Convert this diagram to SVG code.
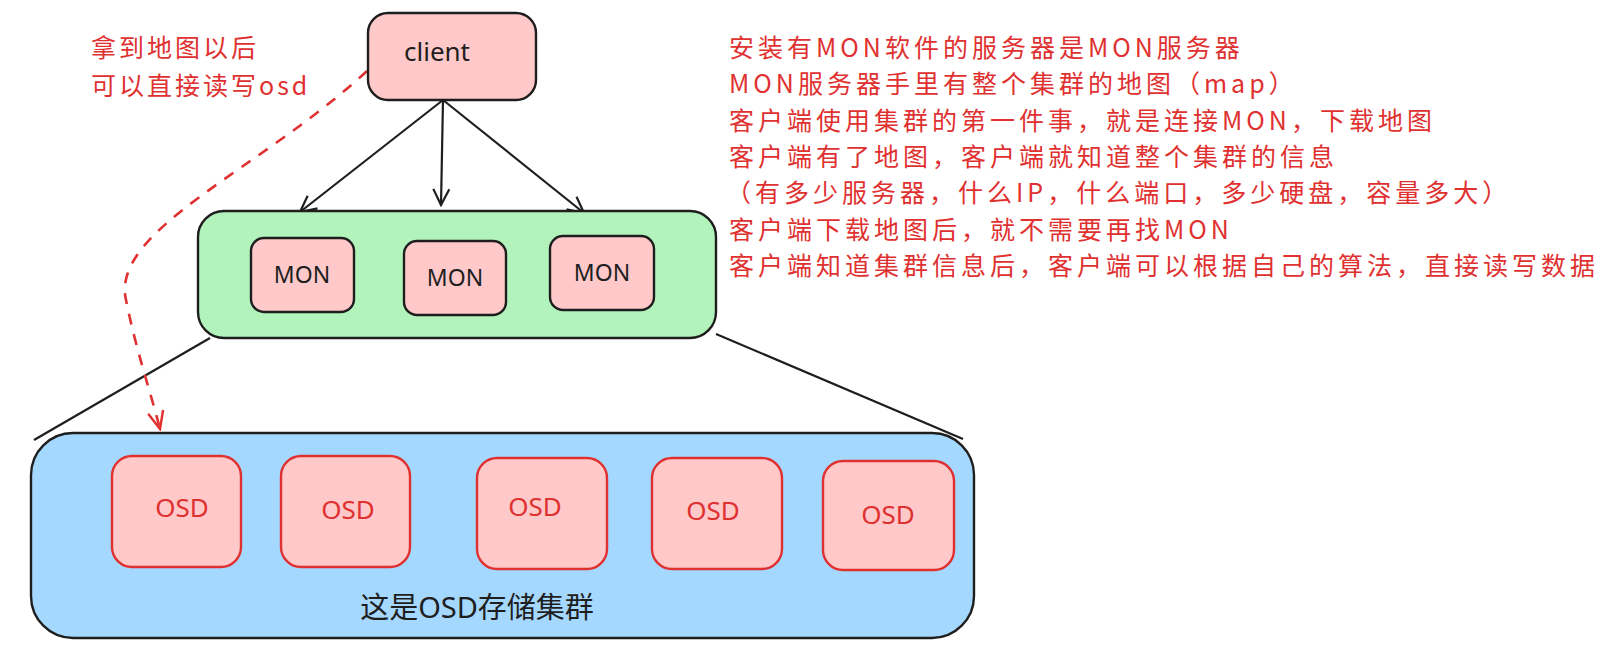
<svg xmlns="http://www.w3.org/2000/svg" width="1620" height="668" viewBox="0 0 1620 668">
<defs>
<style>
.box{stroke:#1e1e1e;stroke-width:2.4;}
.pink{fill:#ffc9c9;}
.osd{fill:#ffc9c9;stroke:#e03131;stroke-width:2.4;}
.lbl{font-family:"Noto Sans","Noto Sans CJK SC",sans-serif;fill:#1e1e1e;}
.red{font-family:"Noto Sans CJK SC","Noto Sans",sans-serif;fill:#e03131;font-size:25px;letter-spacing:4px;}
.osdt{font-family:"Noto Sans",sans-serif;fill:#e03131;font-size:26px;text-anchor:middle;}
.mon{font-family:"Noto Sans",sans-serif;fill:#1e1e1e;font-size:23px;text-anchor:middle;}
.conn{fill:none;stroke:#1e1e1e;stroke-width:2.2;}
</style>
<marker id="ah" viewBox="0 0 20 20" refX="18" refY="10" markerWidth="20" markerHeight="20" markerUnits="userSpaceOnUse" orient="auto">
<path d="M2,2 L18,10 L2,18" fill="none" stroke="#1e1e1e" stroke-width="2.2"/>
</marker>
<marker id="ahr" viewBox="0 0 20 20" refX="18" refY="10" markerWidth="22" markerHeight="22" markerUnits="userSpaceOnUse" orient="auto">
<path d="M2,3 L18,10 L2,17" fill="none" stroke="#e03131" stroke-width="2.2"/>
</marker>
</defs>
<rect width="1620" height="668" fill="#ffffff"/>

<g id="connectors">
<line class="conn" x1="443" y1="100" x2="300" y2="212" marker-end="url(#ah)"/>
<line class="conn" x1="443" y1="100" x2="441" y2="205" marker-end="url(#ah)"/>
<line class="conn" x1="443" y1="100" x2="584" y2="213" marker-end="url(#ah)"/>
<line class="conn" x1="210" y1="338" x2="34" y2="440"/>
<line class="conn" x1="716" y1="334" x2="963" y2="439"/>
<path d="M367,71 C260,170 110,230 126,300 C136,350 150,390 160,429" fill="none" stroke="#e03131" stroke-width="2.6" stroke-dasharray="11 10" marker-end="url(#ahr)"/>
</g>

<g id="client">
<rect class="box pink" x="368" y="13" width="168" height="87" rx="20"/>
<text class="lbl" x="437" y="61" font-size="26" text-anchor="middle">client</text>
</g>

<g id="mon-cluster">
<rect class="box" fill="#b2f2bb" x="198" y="211" width="518" height="127" rx="26"/>
</g>
<g id="mon1">
<rect class="box pink" x="251" y="238" width="103" height="74" rx="13"/>
<text class="mon" x="302" y="283">MON</text>
</g>
<g id="mon2">
<rect class="box pink" x="404" y="241" width="102" height="74" rx="13"/>
<text class="mon" x="455" y="286">MON</text>
</g>
<g id="mon3">
<rect class="box pink" x="550" y="236" width="104" height="74" rx="13"/>
<text class="mon" x="602" y="281">MON</text>
</g>

<g id="osd-cluster">
<rect class="box" fill="#a5d8ff" x="31" y="433" width="943" height="205" rx="42"/>
<text class="lbl" x="477" y="618" font-size="29" text-anchor="middle">这是OSD存储集群</text>
</g>
<g id="osd1">
<rect class="osd" x="112" y="456" width="129" height="111" rx="20"/>
<text class="osdt" x="182" y="517">OSD</text>
</g>
<g id="osd2">
<rect class="osd" x="281" y="456" width="129" height="111" rx="20"/>
<text class="osdt" x="348" y="519">OSD</text>
</g>
<g id="osd3">
<rect class="osd" x="477" y="458" width="130" height="111" rx="20"/>
<text class="osdt" x="535" y="516">OSD</text>
</g>
<g id="osd4">
<rect class="osd" x="652" y="458" width="130" height="111" rx="20"/>
<text class="osdt" x="713" y="520">OSD</text>
</g>
<g id="osd5">
<rect class="osd" x="823" y="461" width="131" height="109" rx="20"/>
<text class="osdt" x="888" y="524">OSD</text>
</g>

<g id="note-left">
<text class="red" x="91" y="57" style="letter-spacing:3px">拿到地图以后</text>
<text class="red" x="91" y="95" style="letter-spacing:3px">可以直接读写osd</text>
</g>

<g id="note-right">
<text class="red" x="729" y="57">安装有MON软件的服务器是MON服务器</text>
<text class="red" x="729" y="93.3">MON服务器手里有整个集群的地图（map）</text>
<text class="red" x="729" y="129.6">客户端使用集群的第一件事，就是连接MON，下载地图</text>
<text class="red" x="729" y="166">客户端有了地图，客户端就知道整个集群的信息</text>
<text class="red" x="726" y="202.2">（有多少服务器，什么IP，什么端口，多少硬盘，容量多大）</text>
<text class="red" x="729" y="238.5">客户端下载地图后，就不需要再找MON</text>
<text class="red" x="729" y="275">客户端知道集群信息后，客户端可以根据自己的算法，直接读写数据</text>
</g>
</svg>
